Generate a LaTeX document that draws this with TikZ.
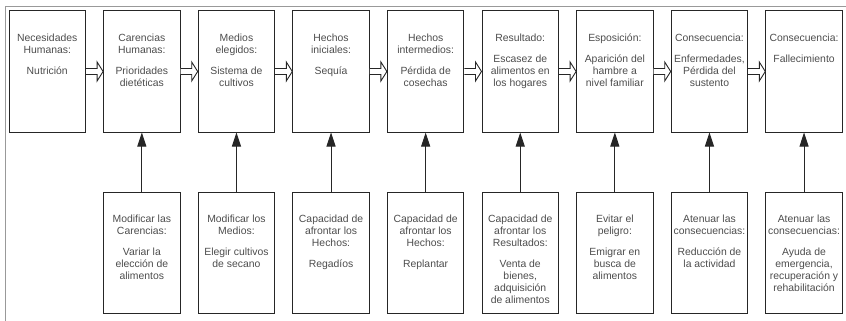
\documentclass[tikz,border=0pt]{standalone}
\usepackage{fontspec}
\setmainfont{Liberation Sans}
\usetikzlibrary{arrows.meta,positioning,calc}
\begin{document}
\begin{tikzpicture}[x=1pt, y=-1pt, font=\fontsize{10.4}{12}\selectfont,
          box/.style={draw=black!85, line width=1pt, minimum width=76.5pt, minimum height=121pt, inner sep=0pt},
          txt/.style={align=center, inner sep=0pt, text=black!70},
          % hollow block arrow between two boxes
          flow/.style={draw=black!85, line width=0.9pt, fill=white, line join=miter,
            to path={let \p1=(\tikztostart.east), \p2=(\tikztotarget.west) in
              (\x1,\y1+3pt) -- (\x2-6pt,\y1+3pt) -- (\x2-6pt,\y1+9.5pt) -- (\x2,\y1)
              -- (\x2-6pt,\y1-9.5pt) -- (\x2-6pt,\y1-3pt) -- (\x1,\y1-3pt)}},
          cope/.style={draw=black!85, line width=1pt, -{Triangle[length=14pt,width=9pt]}}]
        \useasboundingbox (0,0) rectangle (846,321);
        % frame, open at right and bottom
        \draw[gray!80, line width=1pt] (5,321) -- (5,7) -- (846,7);
        % top row: the chain from need to outcome
        \foreach \i/\h/\b in {1/{Necesidades\\Humanas:}/{Nutrición},
            2/{Carencias\\Humanas:}/{Prioridades\\dietéticas},
            3/{Medios\\elegidos:}/{Sistema de\\cultivos},
            4/{Hechos\\iniciales:}/{Sequía},
            5/{Hechos\\intermedios:}/{Pérdida de\\cosechas},
            6/{Resultado:}/{Escasez de\\alimentos en\\los hogares},
            7/{Esposición:}/{Aparición del\\hambre a\\nivel familiar},
            8/{Consecuencia:}/{Enfermedades,\\Pérdida del\\sustento},
            9/{Consecuencia:}/{Fallecimiento}} {
          \pgfmathsetmacro{\xc}{47.25+94.6*(\i-1)}
          \node[box] (top\i) at (\xc,71.5) {};
          \node[txt, below=23.5pt of top\i.north] (toptxt\i) {\h\\[9pt]\b};
        }
        \foreach \i [evaluate=\i as \j using int(\i+1)] in {1,...,8}
          \draw[flow] (top\i) to (top\j);
        % bottom row: responses feeding each step
        \foreach \i/\h/\b in {2/{Modificar las\\Carencias:}/{Variar la\\elección de\\alimentos},
            3/{Modificar los\\Medios:}/{Elegir cultivos\\de secano},
            4/{Capacidad de\\afrontar los\\Hechos:}/{Regadíos},
            5/{Capacidad de\\afrontar los\\Hechos:}/{Replantar},
            6/{Capacidad de\\afrontar los\\Resultados:}/{Venta de\\bienes,\\adquisición\\de alimentos},
            7/{Evitar el\\peligro:}/{Emigrar en\\busca de\\alimentos},
            8/{Atenuar las\\consecuencias:}/{Reducción de\\la actividad},
            9/{Atenuar las\\consecuencias:}/{Ayuda de\\emergencia,\\recuperación y\\rehabilitación}} {
          \node[box, below=59pt of top\i] (bot\i) {};
          \node[txt, below=23.5pt of bot\i.north] (bottxt\i) {\h\\[9pt]\b};
          \draw[cope] (bot\i) -- (top\i);
        }
      \end{tikzpicture}
\end{document}
